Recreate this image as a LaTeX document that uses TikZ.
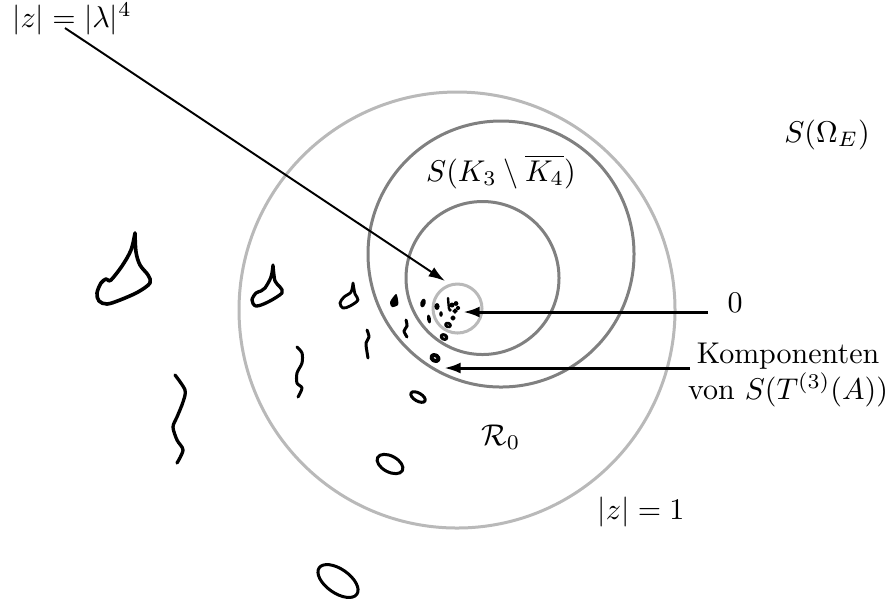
\documentclass[tikz,border=0pt]{standalone}
\usetikzlibrary{arrows.meta}
\definecolor{lightring}{RGB}{185,185,185}
\definecolor{darkring}{RGB}{128,128,128}
\begin{document}
\begin{tikzpicture}[x=0.33333pt,y=-0.33333pt,
  ring/.style={line width=1pt},
  blob/.style={line width=1pt, line join=round, line cap=round},
  arr/.style={line width=1pt, -{Latex[length=5.5pt,width=3.6pt]}},
  thinarr/.style={line width=0.65pt, -{Latex[length=5.5pt,width=3.6pt]}},
  lab/.style={inner sep=0pt, font=\fontsize{10}{12}\selectfont}]
\useasboundingbox (0,0) rectangle (895,603);
% rings
\draw[ring, lightring] (457,310) circle[radius=218];
\draw[ring, darkring] (501,254) circle[radius=133];
\draw[ring, darkring] (482.5,278) circle[radius=76.5];
\draw[ring, lightring] (457.5,308.5) circle[radius=24.5];
% labels
\node[lab, anchor=base] (zl) at (72,27) {$|z| = |\lambda|^4$};
\node[lab, anchor=base] (so) at (827,142) {$S(\Omega_E)$};
\node[lab, anchor=base] (sk) at (501,181) {$S(K_3 \setminus \overline{K_4})$};
\node[lab, anchor=base] (r0) at (501,445) {$\mathcal{R}_0$};
\node[lab, anchor=base] (z1) at (641,519) {$|z| = 1$};
\node[lab, anchor=base] (zero) at (735,312) {$0$};
\node[lab, align=center, anchor=north] (komp) at (788,342.5) {Komponenten\\von $S(T^{(3)}(A))$};
% arrows
\coordinate (zs) at (65,28); \coordinate (zt) at (445,281);
\draw[thinarr] (zs) -- (zt);
\coordinate (a0) at (708,312); \coordinate (t0) at (463,312);
\draw[arr] (a0) -- (t0);
\coordinate (a1) at (690,368); \coordinate (t1) at (444,368);
\draw[arr] (a1) -- (t1);
% fins
\draw[blob, line width=1.2pt] plot[smooth, tension=0.55] coordinates {(135,233) (131,250) (122,266) (111,280) (108,280) (106,279) (101,283) (97,293) (99,301) (107,304) (120,300) (138,292) (150,283) (148,275) (140,265) (136,252) (135,233)};
\draw[blob, line width=1.1pt] plot[smooth, tension=0.55] coordinates {(273,265) (271,277) (265,288) (261,291) (256,293) (252,300) (256,306) (268,302) (282,293) (280,287) (275,281) (273,265)};
\draw[blob, line width=0.95pt] plot[smooth, tension=0.55] coordinates {(353,283) (351,292) (344,297) (340,303) (343,308) (350,306) (358,300) (355,294) (353,283)};
% wiggles
\draw[blob, line width=1.1pt] plot[smooth] coordinates {(175,375) (185,390) (183,402) (177,417) (173,427) (177,440) (183,450) (177,463)};
\draw[blob] plot[smooth] coordinates {(297,347) (302,353) (302,363) (297,373) (297,383) (302,388) (298,397)};
\draw[blob] plot[smooth] coordinates {(367,330) (369,337) (366,343) (367,352) (368,358)};
\draw[blob] plot[smooth] coordinates {(406,320) (407,326) (404,331) (407,337)};
% ellipses
\draw[blob, rotate around={-35:(338,581)}] (338,581) ellipse[x radius=23, y radius=12];
\draw[blob, rotate around={-28:(390,464)}] (390,464) ellipse[x radius=14, y radius=8];
\draw[blob, rotate around={-30:(418,397)}] (418,397) ellipse[x radius=8, y radius=4];
\draw[blob, line width=1.3pt, rotate around={-30:(435,358)}] (435,358) ellipse[x radius=3.8, y radius=2.8];
\draw[blob, line width=1pt, rotate around={-30:(444,337)}] (444,337) ellipse[x radius=3, y radius=2.2];
\draw[blob, line width=0.9pt, rotate around={-20:(448,325)}] (448,325) ellipse[x radius=2.6, y radius=1.9];
\draw[blob, line width=0.7pt] (453,318) circle[radius=1.6];
% small filled pieces
\fill plot[smooth cycle] coordinates {(396,294) (398,300) (398,305) (392,307) (390,302)};
\fill[rotate around={-15:(423,303)}] (423,303) ellipse[x radius=2.6, y radius=4.5];
\fill (437,306.5) ellipse[x radius=2.6, y radius=3.5];
\fill (441,314) ellipse[x radius=1.8, y radius=2.8];
\fill[rotate around={10:(429,319)}] (429,319) ellipse[x radius=2, y radius=4.5];
\draw[blob, line width=0.8pt] plot[smooth] coordinates {(448,298) (448.5,304) (449,309)};
\fill (452,305) circle[radius=2.5];
\fill (456,303.5) circle[radius=2.4];
\fill (458,308) circle[radius=2.1];
\fill (450,310) circle[radius=1.8];
\draw[line width=0.6pt] (455,311) circle[radius=1.5];
\end{tikzpicture}
\end{document}
